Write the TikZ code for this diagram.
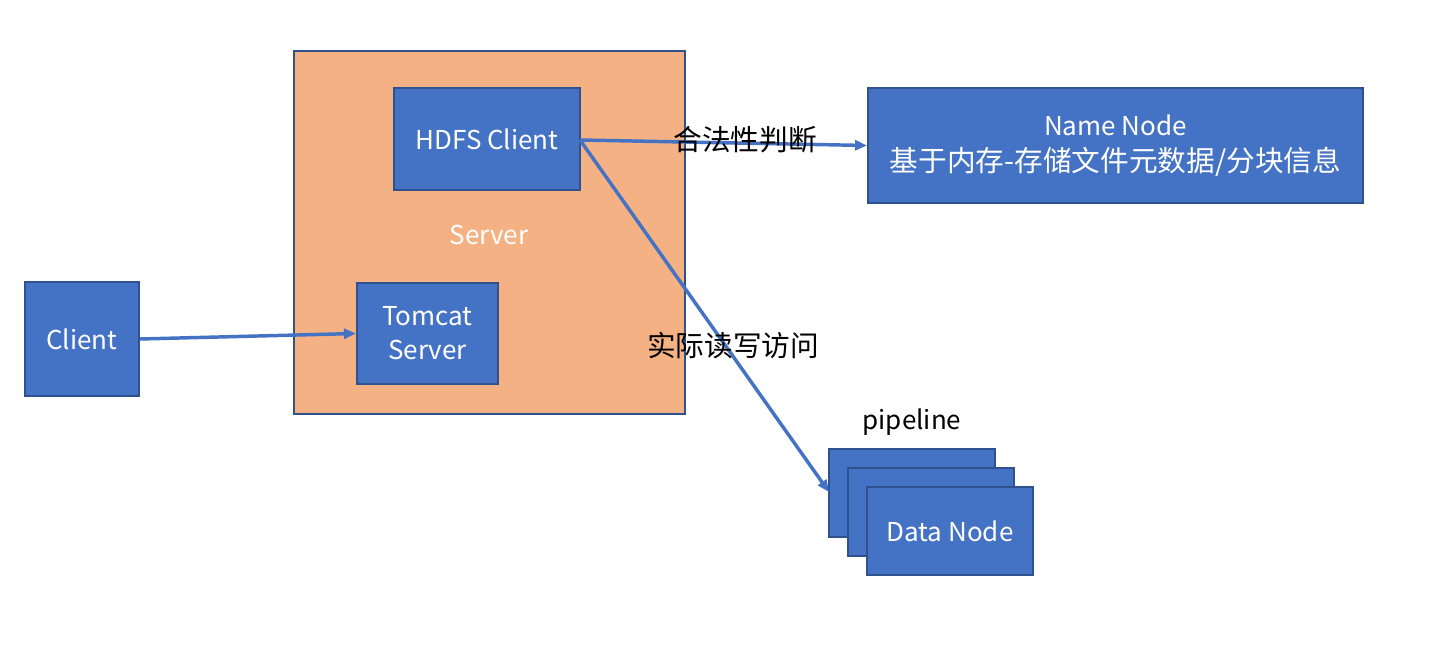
\documentclass[tikz,border=0pt]{standalone}
\usepackage{fontspec}
\setmainfont{Noto Sans CJK SC}
\usetikzlibrary{arrows.meta}
\definecolor{boxblue}{HTML}{4472C4}
\definecolor{boxedge}{HTML}{2F528F}
\definecolor{srvorange}{HTML}{F4B183}
\tikzset{
  bluebox/.style={draw=boxedge, line width=1.5pt, fill=boxblue, text=white, inner sep=0pt, align=center, font=\fontsize{19.5}{25.5}\selectfont},
  conn/.style={draw=boxblue, line width=2.6pt, -{Triangle[length=9pt,width=7.5pt]}},
  lbl/.style={text=black, inner sep=0pt, font=\fontsize{21.5}{25}\selectfont}
}
\begin{document}
\begin{tikzpicture}[x=0.75pt,y=-0.75pt]
\useasboundingbox (0,0) rectangle (1436,663);
\node[draw=boxedge, line width=1.5pt, fill=srvorange, minimum width=391*0.75pt, minimum height=363*0.75pt, inner sep=0pt] (server) at (489.5,232.5) {};
\node[text=white, font=\fontsize{19.5}{22}\selectfont, inner sep=0pt] (serverlbl) at (489,235) {Server};
\node[bluebox, minimum width=186*0.75pt, minimum height=102*0.75pt] (hdfs) at (487,139) {HDFS Client};
\node[bluebox, minimum width=141*0.75pt, minimum height=101*0.75pt] (tomcat) at (427.5,333.5) {Tomcat\\Server};
\node[bluebox, minimum width=114*0.75pt, minimum height=114*0.75pt] (client) at (82,339) {Client};
\node[bluebox, minimum width=495*0.75pt, minimum height=115*0.75pt, font=\fontsize{19.5}{27}\selectfont] (name) at (1115.5,145.5) {Name Node\\{\fontsize{21.5}{27}\selectfont 基于内存-存储文件元数据/分块信息}};
\node[bluebox, minimum width=166*0.75pt, minimum height=88*0.75pt] (dn1) at (912,493) {};
\node[bluebox, minimum width=166*0.75pt, minimum height=88*0.75pt] (dn2) at (931,512) {};
\node[bluebox, minimum width=166*0.75pt, minimum height=88*0.75pt] (dn3) at (950,531) {Data Node};
\node[lbl, font=\fontsize{19.5}{22}\selectfont] (pipe) at (912,422) {pipeline};
\coordinate (hdfsout) at (580,140);
\coordinate (dnin) at (829,492);
\draw[conn] (client.east) -- (tomcat.west);
\draw[conn] (hdfsout) -- (name.west);
\draw[conn] (hdfsout) -- (dnin);
\node[lbl] (legal) at (745,140) {合法性判断};
\node[lbl] (rw) at (733,346) {实际读写访问};
\end{tikzpicture}
\end{document}
